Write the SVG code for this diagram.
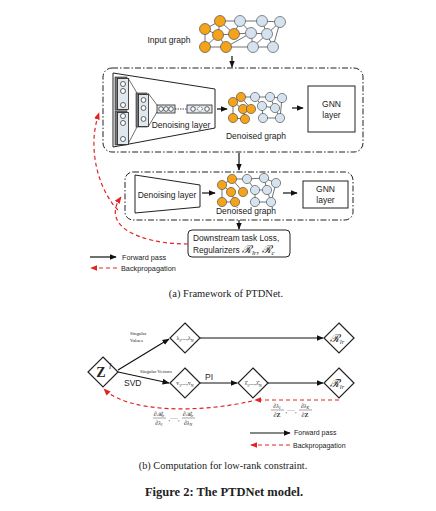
<svg xmlns="http://www.w3.org/2000/svg" width="436" height="511" viewBox="0 0 436 511">
<defs>
<marker id="ah" viewBox="0 0 10 10" refX="9" refY="5" markerWidth="6" markerHeight="6" orient="auto"><path d="M0,1 L10,5 L0,9 z" fill="#111"/></marker>
<marker id="ahs" viewBox="0 0 10 10" refX="9" refY="5" markerWidth="4" markerHeight="4" orient="auto"><path d="M0,1 L10,5 L0,9 z" fill="#222"/></marker>
<marker id="rh" viewBox="0 0 10 10" refX="9" refY="5" markerWidth="6" markerHeight="6" orient="auto"><path d="M0,1 L10,5 L0,9 z" fill="#e32222"/></marker>
</defs>
<style>
.sans{font-family:"Liberation Sans",Arial,sans-serif;fill:#222}
.serif{font-family:"Liberation Serif","Times New Roman",serif;fill:#222}
.dd{fill:none;stroke:#222;stroke-width:1;stroke-dasharray:6 2 1.5 2}
.fw{stroke:#111;stroke-width:1.2;fill:none}
.bp{stroke:#e32222;stroke-width:1.2;fill:none;stroke-dasharray:4 3}
.o{fill:#f5a31a;stroke:#555;stroke-width:0.7}
.b{fill:#d5e3f0;stroke:#555;stroke-width:0.7}
.e{stroke:#333;stroke-width:0.7}
.dia{fill:#fff;stroke:#222;stroke-width:1.2}
.col{fill:#dfe7ef;stroke:#222;stroke-width:0.8}
.colb{fill:#777;stroke:#222;stroke-width:0.6}
.c{fill:#fff;stroke:#222;stroke-width:0.7}
.fr{stroke:#444;stroke-width:0.5}
</style>
<rect width="436" height="511" fill="#fff"/>

<!-- Input graph -->
<g id="input-graph">
<g class="e">
<line x1="205" y1="29" x2="220" y2="21"/><line x1="205" y1="29" x2="218" y2="35"/><line x1="205" y1="29" x2="205" y2="47"/>
<line x1="220" y1="21" x2="218" y2="35"/><line x1="220" y1="21" x2="240" y2="21"/><line x1="218" y1="35" x2="234" y2="34"/>
<line x1="218" y1="35" x2="226" y2="47"/><line x1="205" y1="47" x2="226" y2="47"/><line x1="205" y1="47" x2="218" y2="35"/>
<line x1="234" y1="34" x2="240" y2="21"/><line x1="234" y1="34" x2="251" y2="33"/><line x1="226" y1="47" x2="251" y2="33"/>
<line x1="226" y1="47" x2="253" y2="47"/><line x1="240" y1="21" x2="262" y2="21"/><line x1="240" y1="21" x2="251" y2="33"/>
<line x1="251" y1="33" x2="267" y2="34"/><line x1="262" y1="21" x2="280" y2="22"/><line x1="262" y1="21" x2="267" y2="34"/>
<line x1="280" y1="22" x2="267" y2="34"/><line x1="280" y1="22" x2="273" y2="47"/><line x1="267" y1="34" x2="253" y2="47"/>
<line x1="267" y1="34" x2="273" y2="47"/><line x1="253" y1="47" x2="273" y2="47"/><line x1="251" y1="33" x2="253" y2="47"/>
<line x1="220" y1="21" x2="234" y2="34"/>
</g>
<circle class="o" cx="205" cy="29" r="5.5"/><circle class="o" cx="220" cy="21" r="5.5"/><circle class="o" cx="218" cy="35" r="5.5"/>
<circle class="o" cx="234" cy="34" r="5.5"/><circle class="o" cx="205" cy="47" r="5.5"/><circle class="o" cx="226" cy="47" r="5.5"/>
<circle class="b" cx="240" cy="21" r="5.5"/><circle class="b" cx="251" cy="33" r="5.5"/><circle class="b" cx="262" cy="21" r="5.5"/>
<circle class="b" cx="280" cy="22" r="5.5"/><circle class="b" cx="267" cy="34" r="5.5"/><circle class="b" cx="253" cy="47" r="5.5"/>
<circle class="b" cx="273" cy="47" r="5.5"/>
<text class="sans" x="169" y="43" font-size="8.5" text-anchor="middle">Input graph</text>
</g>

<!-- Module 1 -->
<g id="module1">
<rect class="dd" x="103" y="68" width="260" height="84" rx="9"/>
<polygon points="113,73 215,89 215,128 113,147" fill="#fff" stroke="#222" stroke-width="1"/>
<g>
<line class="e" x1="128" y1="78" x2="137" y2="93"/><line class="e" x1="128" y1="144" x2="137" y2="127"/>
<line class="e" x1="148" y1="93" x2="157" y2="105"/><line class="e" x1="148" y1="127" x2="157" y2="112"/>
<rect class="colb" x="115" y="77" width="12" height="33"/><rect class="col" x="117.5" y="78.5" width="11" height="31"/>
<rect class="colb" x="115" y="111" width="12" height="34"/><rect class="col" x="117.5" y="112.5" width="11" height="32"/>
<circle class="c" cx="123" cy="84" r="2.5"/><circle class="c" cx="123" cy="91" r="2.5"/><circle class="c" cx="123" cy="105" r="2.5"/>
<circle class="c" cx="123" cy="116" r="2.5"/><circle class="c" cx="123" cy="123" r="2.5"/><circle class="c" cx="123" cy="139" r="2.5"/>
<rect class="colb" x="136" y="93" width="11" height="34"/><rect class="col" x="138.5" y="94.5" width="10" height="32"/>
<circle class="c" cx="143.5" cy="100" r="2.4"/><circle class="c" cx="143.5" cy="108" r="2.4"/><circle class="c" cx="143.5" cy="119" r="2.4"/>
<rect class="col" x="157" y="105" width="18" height="8"/>
<circle class="c" cx="161" cy="109" r="2.3"/><circle class="c" cx="166" cy="109" r="2.3"/><circle class="c" cx="171" cy="109" r="2.3"/>
<line x1="175" y1="109" x2="187" y2="109" stroke="#222" stroke-width="0.8" stroke-dasharray="1.5 1"/>
<rect class="col" x="187" y="105" width="25" height="8"/>
<circle class="c" cx="193" cy="109" r="2.3"/><circle class="c" cx="200" cy="109" r="2.3" stroke-dasharray="1 0.8"/><circle class="c" cx="207" cy="109" r="2.3"/>
</g>
<text class="sans" x="181" y="128" font-size="8.5" text-anchor="middle">Denoising layer</text>
<g class="e">
<line x1="233" y1="102" x2="241" y2="97"/><line x1="233" y1="102" x2="243" y2="109"/><line x1="233" y1="102" x2="233" y2="118"/>
<line x1="241" y1="97" x2="251" y2="109"/><line x1="243" y1="109" x2="245" y2="119"/><line x1="233" y1="118" x2="245" y2="119"/>
<line x1="241" y1="97" x2="255" y2="97"/><line x1="255" y1="97" x2="270" y2="97"/><line x1="255" y1="97" x2="262" y2="106"/>
<line x1="270" y1="97" x2="282" y2="98"/><line x1="270" y1="97" x2="275" y2="108"/><line x1="262" y1="106" x2="275" y2="108"/>
<line x1="262" y1="106" x2="263" y2="118"/><line x1="275" y1="108" x2="280" y2="118"/><line x1="263" y1="118" x2="280" y2="118"/>
<line x1="282" y1="98" x2="280" y2="118"/>
</g>
<circle class="o" cx="233" cy="102" r="4.6"/><circle class="o" cx="241" cy="97" r="4.6"/><circle class="o" cx="243" cy="109" r="4.6"/>
<circle class="o" cx="251" cy="109" r="4.6"/><circle class="o" cx="233" cy="118" r="4.6"/><circle class="o" cx="245" cy="119" r="4.6"/>
<circle class="b" cx="255" cy="97" r="4.6"/><circle class="b" cx="262" cy="106" r="4.6"/><circle class="b" cx="270" cy="97" r="4.6"/>
<circle class="b" cx="282" cy="98" r="4.6"/><circle class="b" cx="275" cy="108" r="4.6"/><circle class="b" cx="263" cy="118" r="4.6"/>
<circle class="b" cx="280" cy="118" r="4.6"/>
<text class="sans" x="256" y="139" font-size="8.5" text-anchor="middle">Denoised graph</text>
<rect x="308" y="86" width="47" height="46" fill="#fff" stroke="#222" stroke-width="1"/>
<text class="sans" x="331.5" y="107" font-size="8.5" text-anchor="middle">GNN</text>
<text class="sans" x="331.5" y="118" font-size="8.5" text-anchor="middle">layer</text>
</g>

<!-- Module 2 -->
<g id="module2">
<rect class="dd" x="125" y="172" width="228" height="48" rx="8"/>
<polygon points="135,175 200,185 200,207 135,213" fill="#fff" stroke="#222" stroke-width="1"/>
<text class="sans" x="167" y="198" font-size="8.5" text-anchor="middle">Denoising layer</text>
<g class="e">
<line x1="222" y1="185" x2="232" y2="179"/><line x1="222" y1="185" x2="231" y2="192"/><line x1="222" y1="185" x2="222" y2="202"/>
<line x1="232" y1="179" x2="243" y2="192"/><line x1="231" y1="192" x2="235" y2="202"/><line x1="222" y1="202" x2="235" y2="202"/>
<line x1="232" y1="179" x2="247" y2="179"/><line x1="247" y1="179" x2="264" y2="178"/><line x1="247" y1="179" x2="255" y2="190"/>
<line x1="264" y1="178" x2="276" y2="183"/><line x1="264" y1="178" x2="267" y2="190"/><line x1="255" y1="190" x2="267" y2="190"/>
<line x1="255" y1="190" x2="255" y2="202"/><line x1="267" y1="190" x2="271" y2="202"/><line x1="255" y1="202" x2="271" y2="202"/>
<line x1="276" y1="183" x2="271" y2="202"/>
</g>
<circle class="o" cx="222" cy="185" r="4.6"/><circle class="o" cx="232" cy="179" r="4.6"/><circle class="o" cx="231" cy="192" r="4.6"/>
<circle class="o" cx="243" cy="192" r="4.6"/><circle class="o" cx="222" cy="202" r="4.6"/><circle class="o" cx="235" cy="202" r="4.6"/>
<circle class="b" cx="247" cy="179" r="4.6"/><circle class="b" cx="255" cy="190" r="4.6"/><circle class="b" cx="264" cy="178" r="4.6"/>
<circle class="b" cx="276" cy="183" r="4.6"/><circle class="b" cx="267" cy="190" r="4.6"/><circle class="b" cx="255" cy="202" r="4.6"/>
<circle class="b" cx="271" cy="202" r="4.6"/>
<text class="sans" x="246" y="214" font-size="8.5" text-anchor="middle">Denoised graph</text>
<rect x="303" y="181" width="45" height="27" fill="#fff" stroke="#222" stroke-width="1"/>
<text class="sans" x="325.5" y="192" font-size="8.5" text-anchor="middle">GNN</text>
<text class="sans" x="325.5" y="203" font-size="8.5" text-anchor="middle">layer</text>
</g>

<!-- Loss box -->
<g id="loss">
<rect x="188" y="230" width="102" height="27" rx="4" fill="#fff" stroke="#222" stroke-width="1"/>
<text class="sans" x="193" y="241" font-size="8.3">Downstream task Loss,</text>
<text class="sans" x="193" y="253" font-size="8.3">Regularizers <tspan class="serif" font-size="11" font-style="italic">ℛ</tspan><tspan class="serif" font-size="7" font-style="italic" dy="2">lr</tspan><tspan class="serif" font-size="10" dy="-2">, </tspan><tspan class="serif" font-size="11" font-style="italic">ℛ</tspan><tspan class="serif" font-size="7" font-style="italic" dy="2">c</tspan></text>
</g>

<!-- Connectors part (a) -->
<g id="connectors-a">
<line class="fw" x1="232" y1="56" x2="232" y2="67" marker-end="url(#ah)"/>
<line class="fw" x1="217" y1="109" x2="227" y2="109" marker-end="url(#ah)"/>
<line class="fw" x1="292" y1="108" x2="303" y2="108" marker-end="url(#ah)"/>
<line class="fw" x1="239" y1="153" x2="239" y2="170" marker-end="url(#ah)"/>
<line class="fw" x1="202" y1="193" x2="215" y2="193" marker-end="url(#ah)"/>
<line class="fw" x1="283" y1="193" x2="297" y2="193" marker-end="url(#ah)"/>
<line class="fw" x1="239" y1="220" x2="239" y2="229" marker-end="url(#ah)"/>
<path class="bp" d="M188,244 C140,244 100,226 121,197" marker-end="url(#rh)"/>
<path class="bp" d="M118,210 C100,192 86,150 99,113" marker-end="url(#rh)"/>
</g>

<!-- Legend (a) -->
<g id="legend-a">
<line class="fw" x1="90" y1="257" x2="116" y2="257" marker-end="url(#ah)"/>
<text class="sans" x="122" y="259.5" font-size="7.3">Forward pass</text>
<line class="bp" x1="117" y1="268" x2="91" y2="268" marker-end="url(#rh)"/>
<text class="sans" x="121" y="270.5" font-size="7.3">Backpropagation</text>
</g>
<text class="serif" x="226" y="297" font-size="10.5" text-anchor="middle">(a)  Framework of PTDNet.</text>

<!-- Part (b) nodes -->
<g id="Z">
<polygon class="dia" points="103,357 118,372 103,387 88,372"/>
<text class="serif" x="101" y="377" font-size="14" font-weight="bold" text-anchor="middle">Z</text>
<text class="serif" x="109" y="369" font-size="8" font-style="italic">l</text>
</g>
<g id="sv">
<polygon class="dia" points="185,323 200,338 185,353 170,338"/>
<text class="serif" x="185" y="340" font-size="5.5" text-anchor="middle" fill="#555">λ<tspan font-size="4" dy="1.5">1</tspan><tspan dy="-1.5">,...,λ</tspan><tspan font-size="4" dy="1.5">N</tspan></text>
</g>
<g id="rlr">
<polygon class="dia" points="339,323 354,338 339,353 324,338"/>
<text class="serif" x="337" y="342" font-size="11" font-style="italic" text-anchor="middle">ℛ<tspan font-size="6.5" dy="2">lr</tspan></text>
</g>
<g id="vec">
<polygon class="dia" points="185,368 200,383 185,398 170,383"/>
<text class="serif" x="185" y="385" font-size="5.5" text-anchor="middle" fill="#555">v<tspan font-size="4" dy="1.5">1</tspan><tspan dy="-1.5">,...,v</tspan><tspan font-size="4" dy="1.5">N</tspan></text>
</g>
<g id="pi">
<polygon class="dia" points="253,368 268,383 253,398 238,383"/>
<text class="serif" x="253" y="385" font-size="5.5" text-anchor="middle" fill="#555">λ̂<tspan font-size="4" dy="1.5">1</tspan><tspan dy="-1.5">,...,λ̂</tspan><tspan font-size="4" dy="1.5">N</tspan></text>
</g>
<g id="rlr2">
<polygon class="dia" points="339,368 354,383 339,398 324,383"/>
<text class="serif" x="337" y="387" font-size="11" font-style="italic" text-anchor="middle">ℛ̃<tspan font-size="6.5" dy="2">lr</tspan></text>
</g>

<!-- Connectors part (b) -->
<g id="connectors-b">
<line class="fw" x1="118" y1="370" x2="169" y2="339" marker-end="url(#ah)"/>
<line class="fw" x1="118" y1="372" x2="169" y2="383" marker-end="url(#ah)"/>
<line class="fw" x1="200" y1="338" x2="323" y2="338" marker-end="url(#ah)"/>
<line class="fw" x1="200" y1="383" x2="237" y2="383" marker-end="url(#ah)"/>
<line class="fw" x1="268" y1="383" x2="323" y2="383" marker-end="url(#ah)"/>
<line class="bp" x1="339" y1="400" x2="255" y2="400" marker-end="url(#rh)"/>
<path class="bp" d="M252,401 C200,413 128,413 104,389" marker-end="url(#rh)"/>
</g>
<g id="labels-b">
<text class="serif" x="130" y="335" font-size="4.8" fill="#555">Singular</text>
<text class="serif" x="130" y="342" font-size="4.8" fill="#555">Values</text>
<text class="serif" x="140" y="373" font-size="4.8" fill="#555">Singular Vectors</text>
<text class="sans" x="124" y="386" font-size="8.5">SVD</text>
<text class="sans" x="205" y="380" font-size="8.5">PI</text>
<g font-size="6" fill="#555">
<text class="serif" x="159" y="416" font-size="6" text-anchor="middle" font-style="italic">∂ℛ<tspan font-size="4" dy="1">lr</tspan></text>
<line class="fr" x1="153" y1="418" x2="166" y2="418"/>
<text class="serif" x="159" y="425" font-size="6" text-anchor="middle" font-style="italic">∂λ<tspan font-size="4" dy="1">1</tspan></text>
<text class="serif" x="174" y="421" font-size="6" text-anchor="middle">,····,</text>
<text class="serif" x="188" y="416" font-size="6" text-anchor="middle" font-style="italic">∂ℛ<tspan font-size="4" dy="1">lr</tspan></text>
<line class="fr" x1="182" y1="418" x2="195" y2="418"/>
<text class="serif" x="188" y="425" font-size="6" text-anchor="middle" font-style="italic">∂λ<tspan font-size="4" dy="1">N</tspan></text>
<text class="serif" x="277" y="408" font-size="6" text-anchor="middle" font-style="italic">∂λ<tspan font-size="4" dy="1">1</tspan></text>
<line class="fr" x1="271" y1="410" x2="284" y2="410"/>
<text class="serif" x="277" y="417" font-size="6" text-anchor="middle" font-weight="bold">∂Z</text>
<text class="serif" x="291" y="413" font-size="6" text-anchor="middle">,····,</text>
<text class="serif" x="305" y="408" font-size="6" text-anchor="middle" font-style="italic">∂λ<tspan font-size="4" dy="1">K</tspan></text>
<line class="fr" x1="299" y1="410" x2="312" y2="410"/>
<text class="serif" x="305" y="417" font-size="6" text-anchor="middle" font-weight="bold">∂Z</text>
</g>
</g>

<!-- Legend (b) -->
<g id="legend-b">
<line class="fw" x1="250" y1="433" x2="290" y2="433" marker-end="url(#ah)"/>
<text class="sans" x="294" y="435" font-size="7">Forward pass</text>
<line class="bp" x1="290" y1="445" x2="251" y2="445" marker-end="url(#rh)"/>
<text class="sans" x="293" y="447.5" font-size="7">Backpropagation</text>
</g>
<text class="serif" x="223" y="469" font-size="10.3" text-anchor="middle">(b)  Computation for low-rank constraint.</text>
<text class="serif" x="224" y="496" font-size="12.5" font-weight="bold" text-anchor="middle">Figure 2: The PTDNet model.</text>
</svg>
